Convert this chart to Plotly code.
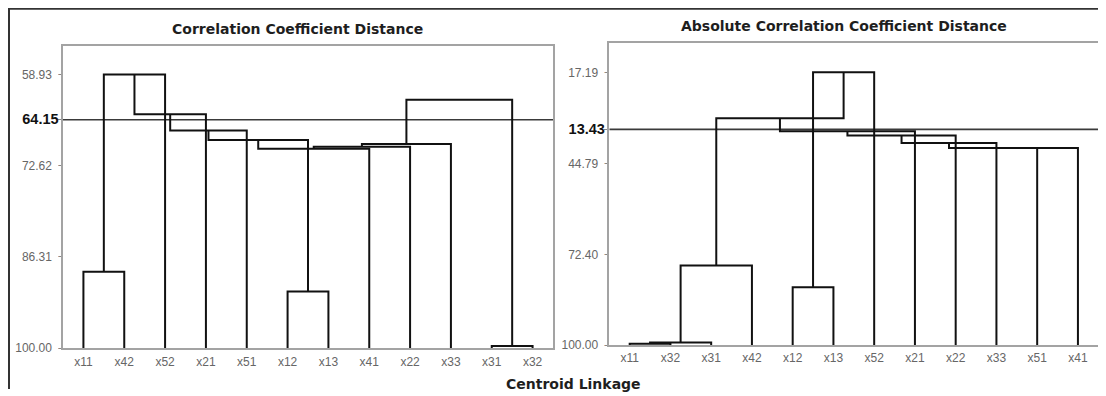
import plotly.graph_objects as go

# ---------------- data ----------------
left_title = "Correlation Coefficient Distance"
right_title = "Absolute Correlation Coefficient Distance"
x_title = "Centroid Linkage"

left_leaves = ["x11", "x42", "x52", "x21", "x51", "x12", "x13", "x41", "x22", "x33", "x31", "x32"]
left_merge_a = ["x31", "x12", "x11", "m3", "m4", "m5", "m6", "m7", "m8", "m9", "m10"]
left_merge_b = ["x32", "x13", "x42", "x52", "x21", "x51", "m2", "x41", "x22", "x33", "m1"]
left_merge_h = [99.7, 91.49, 88.52, 58.93, 64.90, 67.31, 68.74, 70.06, 69.76, 69.37, 62.69]
left_tick_vals = [58.93, 65.70, 72.62, 86.31, 100.00]
left_tick_text = ["58.93", "64.15", "72.62", "86.31", "100.00"]
left_cut = 65.70
left_range = [100.0, 54.67]

right_leaves = ["x11", "x32", "x31", "x42", "x12", "x13", "x52", "x21", "x22", "x33", "x51", "x41"]
right_merge_a = ["x11", "m1", "m2", "x12", "m4", "m3", "m6", "m7", "m8", "m9", "m10"]
right_merge_b = ["x32", "x31", "x42", "x13", "x52", "m5", "x21", "x22", "x33", "x51", "x41"]
right_merge_h = [99.6, 99.2, 75.82, 82.43, 16.98, 31.0, 34.96, 36.18, 38.53, 40.0, 40.06]
right_tick_vals = [17.19, 34.35, 44.79, 72.40, 100.00]
right_tick_text = ["17.19", "13.43", "44.79", "72.40", "100.00"]
right_cut = 34.35
right_range = [100.0, 8.04]

LEAF_LEVEL = 100.0
CUT_LABEL_INDEX = 1


def dendro_path(leaves, ma, mb, mh):
    pos = {name: (i, LEAF_LEVEL) for i, name in enumerate(leaves)}
    xs, ys = [], []
    for k, (a, b, h) in enumerate(zip(ma, mb, mh), start=1):
        xa, ha = pos[a]
        xb, hb = pos[b]
        xs += [xa, xa, xb, xb, None]
        ys += [ha, h, h, hb, None]
        pos["m%d" % k] = ((xa + xb) / 2.0, h)
    return xs, ys


def styled_ticks(texts):
    out = []
    for i, t in enumerate(texts):
        if i == CUT_LABEL_INDEX:
            out.append('<span style="font-size:14.5px;fill:#111;color:#111"><b>%s</b></span>' % t)
        else:
            # invisible trailing pad keeps the plain labels a little off the axis
            out.append(t + '<span style="fill:#ffffff;color:#ffffff">0</span>')
    return out


fig = go.Figure()

lx, ly = dendro_path(left_leaves, left_merge_a, left_merge_b, left_merge_h)
rx, ry = dendro_path(right_leaves, right_merge_a, right_merge_b, right_merge_h)

fig.add_trace(go.Scatter(x=[-0.5, 11.5], y=[left_cut, left_cut], mode="lines",
                         line=dict(color="#3a3a3a", width=1.6), xaxis="x", yaxis="y",
                         hoverinfo="skip", showlegend=False))
fig.add_trace(go.Scatter(x=[-0.5, 11.5], y=[right_cut, right_cut], mode="lines",
                         line=dict(color="#3a3a3a", width=1.6), xaxis="x2", yaxis="y2",
                         hoverinfo="skip", showlegend=False))
fig.add_trace(go.Scatter(x=lx, y=ly, mode="lines", line=dict(color="#111", width=2),
                         xaxis="x", yaxis="y", showlegend=False))
fig.add_trace(go.Scatter(x=rx, y=ry, mode="lines", line=dict(color="#111", width=2),
                         xaxis="x2", yaxis="y2", showlegend=False))

# page has an 8px body margin; the captured page is ~404 css px tall shown at 396
OFF = 8
SY = 404.0 / 396.0
W, H = 1106 - OFF, 404 - 2 * OFF


def px(x):
    return (x - OFF) / W


def py(y):
    return 1 - (y * SY - OFF) / H


axis_common = dict(showline=True, mirror=True, linecolor="#a3a3a3", linewidth=2,
                   showgrid=False, zeroline=False, fixedrange=True)
tfont = dict(family="Liberation Sans, Arial, sans-serif", size=12, color="#666")
title_font = dict(family="DejaVu Sans, Verdana, sans-serif", size=14, color="#1e1e1e")

fig.update_layout(
    width=W, height=H,
    margin=dict(l=0, r=0, t=0, b=0),
    paper_bgcolor="white", plot_bgcolor="white",
    font=dict(family="Liberation Sans, Arial, sans-serif", color="#222"),
    xaxis=dict(domain=[px(63), px(553)], range=[-0.5, 11.5],
               tickvals=list(range(len(left_leaves))), ticktext=left_leaves,
               ticks="", tickfont=tfont, ticklabelstandoff=2, anchor="y", **axis_common),
    yaxis=dict(domain=[py(347.3), py(46)], range=left_range,
               tickvals=left_tick_vals, ticktext=styled_ticks(left_tick_text),
               ticks="outside", ticklen=3, tickcolor="#888", tickwidth=1,
               ticklabelstandoff=-3,
               tickfont=tfont, anchor="x", **axis_common),
    xaxis2=dict(domain=[px(609.3), px(1098.3)], range=[-0.5, 11.5],
                tickvals=list(range(len(right_leaves))), ticktext=right_leaves,
                ticks="", tickfont=tfont, ticklabelstandoff=1, anchor="y2", **axis_common),
    yaxis2=dict(domain=[py(344.3), py(42.7)], range=right_range,
                tickvals=right_tick_vals, ticktext=styled_ticks(right_tick_text),
                ticks="outside", ticklen=3, tickcolor="#888", tickwidth=1,
                ticklabelstandoff=-3,
                tickfont=tfont, anchor="x2", **axis_common),
    annotations=[
        dict(text="<b>" + left_title + "</b>", x=px(297), y=py(29), xref="paper", yref="paper",
             showarrow=False, font=title_font, xanchor="center", yanchor="middle"),
        dict(text="<b>" + right_title + "</b>", x=px(844), y=py(26), xref="paper", yref="paper",
             showarrow=False, font=title_font, xanchor="center", yanchor="middle"),
        dict(text="<b>" + x_title + "</b>", x=px(573), y=py(383), xref="paper", yref="paper",
             showarrow=False, font=title_font, xanchor="center", yanchor="middle"),
    ],
    shapes=[
        dict(type="line", xref="paper", yref="paper", x0=px(9), x1=px(9), y0=py(8), y1=0,
             line=dict(color="#333", width=2)),
        dict(type="line", xref="paper", yref="paper", x0=px(8), x1=1, y0=py(8.5), y1=py(8.5),
             line=dict(color="#333", width=2)),
    ],
)

fig.write_html("out.html")
